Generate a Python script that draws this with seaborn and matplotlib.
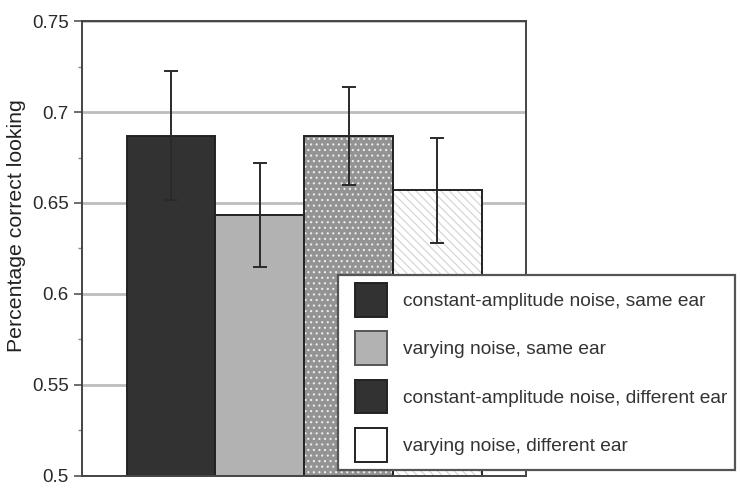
import numpy as np
import pandas as pd
import matplotlib
matplotlib.use('Agg')
import matplotlib.pyplot as plt
from matplotlib.patches import Patch, Rectangle
from matplotlib.legend_handler import HandlerPatch
from matplotlib.ticker import MultipleLocator
import seaborn as sns

# values
conditions = ['constant-amplitude noise, same ear',
              'varying noise, same ear',
              'constant-amplitude noise, different ear',
              'varying noise, different ear']
means = [0.687, 0.6435, 0.687, 0.657]
errs = [0.0355, 0.0285, 0.027, 0.029]

bar_colors = ['#323232', '#b2b2b2', '#939393', '#ffffff']

sns.set_style('white')
plt.rcParams['font.family'] = ['Liberation Sans', 'DejaVu Sans']
plt.rcParams['hatch.linewidth'] = 0.8

df = pd.DataFrame({'condition': conditions, 'mean': means, 'err': errs})

fig = plt.figure(figsize=(7.4, 4.91), dpi=100)
ax = fig.add_axes([0.111, 0.031, 0.600, 0.926])

sns.barplot(data=df, x='condition', y='mean', hue='condition', order=conditions,
            palette=bar_colors, width=1, errorbar=None, legend=False,
            edgecolor='#222222', linewidth=1.4, saturation=1, ax=ax)

bars = ax.patches[:4]
# dotted pattern on the third bar, light diagonal lines on the fourth
bars[2].set_hatch('...')
bars[2].set_edgecolor('#ededed')
bars[2].set_linewidth(0)
bars[3].set_hatch('\\\\\\\\')
bars[3].set_edgecolor('#d2d2d2')
bars[3].set_linewidth(0)
for b in bars[2:]:
    ax.add_patch(Rectangle(b.get_xy(), b.get_width(), b.get_height(),
                           fill=False, edgecolor='#222222', linewidth=1.4, zorder=b.get_zorder()))

xs = [b.get_x() + b.get_width() / 2 for b in bars]
ax.errorbar(xs, df['mean'], yerr=df['err'], fmt='none', ecolor='#2a2a2a',
            elinewidth=1.4, capsize=5, capthick=1.4, zorder=5)

ax.set_ylim(0.5, 0.75)
ax.set_xlim(-1, 4)
ax.set_xticks([])
ax.set_xlabel('')
ax.set_ylabel('Percentage correct looking', fontsize=15.3, color='#222222')
ax.yaxis.set_label_coords(-0.127, 0.55)
ax.yaxis.set_minor_locator(MultipleLocator(0.025))
ax.set_yticks([0.5, 0.55, 0.6, 0.65, 0.7, 0.75])
ax.set_yticklabels(['0.5', '0.55', '0.6', '0.65', '0.7', '0.75'])
ax.tick_params(axis='y', which='major', direction='out', length=6, width=1.2,
               color='#555555', labelsize=13.5, labelcolor='#2a2a2a', left=True)
ax.tick_params(axis='y', which='minor', direction='out', length=3, width=1,
               color='#888888', left=True)
ax.yaxis.grid(True, which='major', color='#bdbdbd', linewidth=2)
ax.set_axisbelow(True)
for s in ax.spines.values():
    s.set_color('#444444')
    s.set_linewidth(1.4)

# legend as drawn in the reference
leg_colors = ['#323232', '#b2b2b2', '#323232', '#ffffff']
leg_edges = ['#222222', '#555555', '#222222', '#222222']
handles = [Patch(facecolor=c, edgecolor=e, linewidth=1.4) for c, e in zip(leg_colors, leg_edges)]
leg = fig.legend(handles, conditions, loc='upper left',
                 bbox_to_anchor=(338 / 740, 1 - 275 / 491), borderaxespad=0,
                 fontsize=13.8, frameon=True, fancybox=False,
                 handlelength=2.16, handleheight=2.31, labelspacing=0.78,
                 handletextpad=0.8, borderpad=0.42, labelcolor='#333333',
                 handler_map={Patch: HandlerPatch(xpad=0.45)})
leg.get_frame().set_edgecolor('#555555')
leg.get_frame().set_linewidth(1.6)
leg.get_frame().set_alpha(1)

fig.savefig('out.png', dpi=100)
